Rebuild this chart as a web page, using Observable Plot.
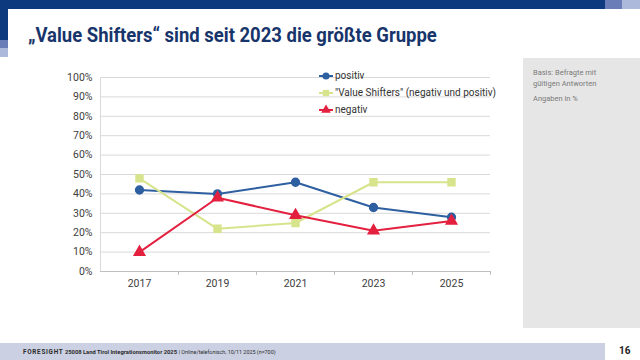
<!DOCTYPE html>
<html>
<head>
<meta charset="utf-8">
<script src="https://cdn.jsdelivr.net/npm/d3@7"></script>
<script src="https://cdn.jsdelivr.net/npm/@observablehq/plot@0.6"></script>
<style>
  html, body { margin: 0; padding: 0; }
  body { width: 640px; height: 360px; position: relative; overflow: hidden; background: #fff; font-family: Roboto, "Open Sans", sans-serif; }
  .abs { position: absolute; }
  #title { left: 28px; top: 23px; font-size: 21px; font-weight: 700; color: #17356b; white-space: nowrap; transform: scaleX(0.88); transform-origin: left top; }
  #panel { left: 523px; top: 58px; width: 117px; height: 270px; background: #e6e6e6; }
  #panel div { position: absolute; left: 10px; font-size: 7.5px; color: #7a7a7a; line-height: 11px; }
  #footer { left: 0; top: 343px; width: 605px; height: 17px; background: #cbd1e3; }
  #foottext { left: 23px; top: 348px; font-size: 5.8px; color: #2b2b2b; white-space: nowrap; }
  #page { left: 619px; top: 345px; font-size: 10px; font-weight: 700; color: #222; }
  #legend { left: 318px; top: 67px; font-size: 10px; color: #333; }
  #legend .row { display: flex; align-items: center; height: 17px; }
  #chart { left: 0; top: 60px; }
</style>
</head>
<body>
<div class="abs" style="left:0;top:0;width:605px;height:9px;background:#0d3a7e"></div>
<div class="abs" style="left:605px;top:0;width:17px;height:9px;background:#6a7db8"></div>
<div class="abs" style="left:622px;top:0;width:18px;height:9px;background:#adb9da"></div>
<div class="abs" style="left:0;top:0;width:8px;height:40px;background:#0d3a7e"></div>
<div class="abs" style="left:0;top:40px;width:8px;height:8px;background:#6a7db8"></div>
<div class="abs" style="left:0;top:48px;width:8px;height:9px;background:#adb9da"></div>
<div id="title" class="abs">„Value Shifters“ sind seit 2023 die größte Gruppe</div>
<div id="panel" class="abs">
  <div style="top:9px">Basis: Befragte mit<br>gültigen Antworten</div>
  <div style="top:35px">Angaben in %</div>
</div>
<div id="footer" class="abs"></div>
<div id="foottext" class="abs"><span style="font-weight:700;font-size:6.4px;letter-spacing:0.7px">FORESIGHT</span> <span style="font-weight:700">25008 Land Tirol Integrationsmonitor 2025</span> | <span style="font-size:5.4px">Online/telefonisch, 10/11 2025 (n=700)</span></div>
<div id="page" class="abs">16</div>
<div id="chart" class="abs"></div>
<div id="legend" class="abs"></div>
<script>
const years = ["2017", "2019", "2021", "2023", "2025"];
const seriesNames = ["positiv", "\"Value Shifters\" (negativ und positiv)", "negativ"];
const positiv = [42, 40, 46, 33, 28];
const valueShifters = [48, 22, 25, 46, 46];
const negativ = [10, 38, 29, 21, 26];
const colors = ["#2e5fa0", "#d8e48c", "#e3203f"];
const symbols = ["circle", "square", "triangle"];
const yTicks = [0, 10, 20, 30, 40, 50, 60, 70, 80, 90, 100];

const seriesValues = [positiv, valueShifters, negativ];
const data = [];
seriesNames.forEach((s, i) => years.forEach((y, j) => data.push({series: s, year: y, value: seriesValues[i][j]})));

const W = 510, H = 240, mL = 100, mR = 20;
const step = (W - mL - mR) / years.length;

const plot = Plot.plot({
  width: W, height: H,
  marginLeft: mL, marginRight: mR, marginTop: 17, marginBottom: 29,
  style: {background: "transparent", fontFamily: "Roboto, sans-serif", fontSize: "10.5px", color: "#404040"},
  x: {type: "point", domain: years, padding: 0.5, label: null, tickSize: 0, tickPadding: 8},
  y: {type: "linear", domain: [0, 100], ticks: yTicks, tickFormat: d => d + "%", label: null, tickSize: 0, tickPadding: 8},
  color: {domain: seriesNames, range: colors},
  symbol: {domain: seriesNames, range: symbols},
  marks: [
    Plot.gridY(yTicks.filter(d => d > 0), {stroke: "#d9d9d9", strokeOpacity: 1, strokeWidth: 1}),
    Plot.ruleX([years[0]], {y1: 0, y2: 100, dx: -step / 2, stroke: "#d9d9d9"}),
    Plot.ruleY([0], {stroke: "#bfbfbf"}),
    Plot.ruleX(years, {x: d => d, dx: step / 2, y1: 0, y2: -2, stroke: "#bfbfbf"}),
    Plot.line(data, {x: "year", y: "value", z: "series", stroke: "series", strokeWidth: 2}),
    Plot.dot(data, {x: "year", y: "value", symbol: "series", fill: "series", stroke: "series", r: 3.9})
  ]
});
document.getElementById("chart").appendChild(plot);

const legend = document.getElementById("legend");
seriesNames.forEach((s, i) => {
  const row = document.createElement("div");
  row.className = "row";
  const sym = d3.symbol(d3["symbol" + symbols[i][0].toUpperCase() + symbols[i].slice(1)], 40)();
  row.innerHTML = `<svg width="16" height="12" style="margin-right:1px"><line x1="1" x2="15" y1="6" y2="6" stroke="${colors[i]}" stroke-width="2"/><path d="${sym}" transform="translate(8,6)" fill="${colors[i]}"/></svg><span>${s.replace(/"/g, "&quot;")}</span>`;
  legend.appendChild(row);
});
</script>
</body>
</html>
